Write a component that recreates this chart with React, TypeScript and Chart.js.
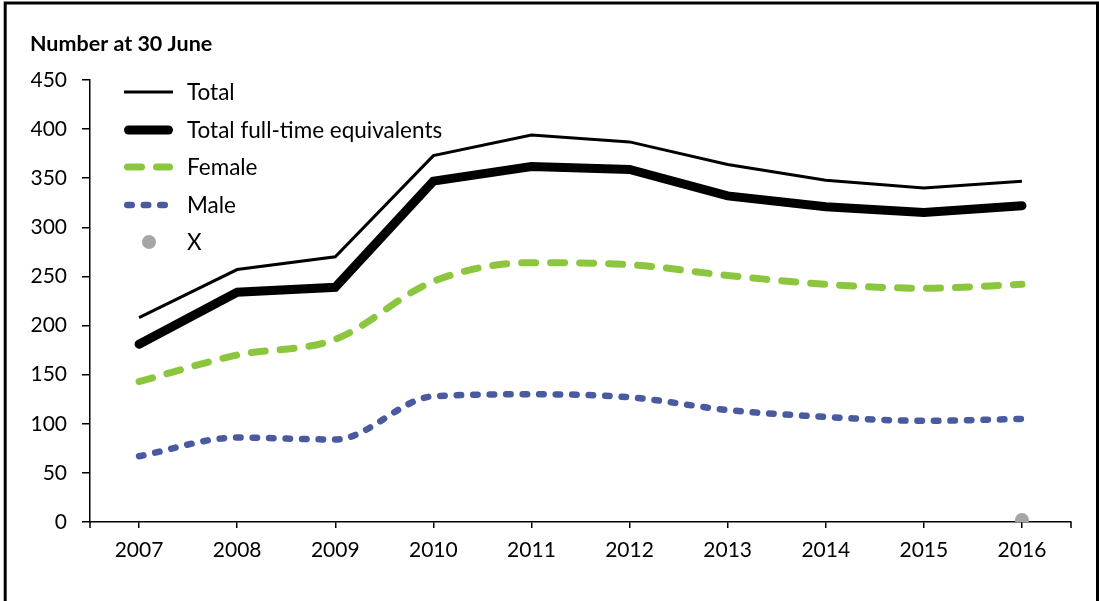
import React, { useEffect, useRef } from "react";
import { Chart, registerables } from "chart.js";

Chart.register(...registerables);

const years = ["2007", "2008", "2009", "2010", "2011", "2012", "2013", "2014", "2015", "2016"];
const totalValues = [208, 257, 270, 373, 394, 387, 364, 348, 340, 347];
const fteValues = [181, 234, 239, 347, 362, 359, 332, 321, 315, 322];
const femaleValues = [143, 170, 186, 245, 264, 262, 251, 242, 238, 242];
const maleValues = [67, 86, 84, 128, 130, 127, 114, 107, 103, 105];
const xValues = [null, null, null, null, null, null, null, null, null, 2];
const seriesLabels = ["Total", "Total full-time equivalents", "Female", "Male", "X"];
const titleText = "Number at 30 June";
const yMin = 0;
const yMax = 450;
const yStep = 50;

const FONT = "Lato, 'Open Sans', sans-serif";

const framePlugin = {
  id: "frame",
  afterDraw(chart: any) {
    const ctx = chart.ctx;
    const area = chart.chartArea;
    ctx.save();
    // outer frame
    ctx.strokeStyle = "#000";
    ctx.lineWidth = 3;
    ctx.strokeRect(5.2, 3, 1092.3, 800);
    // end ticks on x axis
    ctx.lineWidth = 1.5;
    ctx.beginPath();
    ctx.moveTo(area.left, area.bottom);
    ctx.lineTo(area.left, area.bottom + 6);
    ctx.moveTo(area.right, area.bottom);
    ctx.lineTo(area.right, area.bottom + 6);
    ctx.stroke();
    // title
    ctx.fillStyle = "#000";
    ctx.font = `bold 21.5px ${FONT}`;
    ctx.textBaseline = "alphabetic";
    ctx.textAlign = "left";
    ctx.fillText(titleText, 30, 51);
    // legend
    const rowYs = [92, 130, 167, 205, 242];
    chart.data.datasets.forEach((ds: any, i: number) => {
      const y = rowYs[i];
      ctx.save();
      if (ds.showLine === false) {
        ctx.fillStyle = ds.pointBackgroundColor;
        ctx.beginPath();
        ctx.arc(149, y, ds.pointRadius, 0, Math.PI * 2);
        ctx.fill();
      } else {
        ctx.strokeStyle = ds.borderColor;
        ctx.lineWidth = ds.borderWidth;
        ctx.lineCap = ds.borderCapStyle || "butt";
        ctx.setLineDash(ds.borderDash || []);
        ctx.beginPath();
        const x0 = ds.borderCapStyle === "round" ? 124 + ds.borderWidth / 2 : 124;
        const x1 = ds.borderCapStyle === "round" ? 173 - ds.borderWidth / 2 : 173;
        ctx.moveTo(x0, y);
        ctx.lineTo(x1, y);
        ctx.stroke();
      }
      ctx.restore();
      ctx.fillStyle = "#000";
      ctx.font = `22.5px ${FONT}`;
      ctx.textBaseline = "middle";
      ctx.textAlign = "left";
      ctx.fillText(ds.label, 187, y + 1);
    });
    ctx.restore();
  },
};

export default function App() {
  const canvasRef = useRef<HTMLCanvasElement | null>(null);

  useEffect(() => {
    const canvas = canvasRef.current;
    if (!canvas) return;
    const chart = new Chart(canvas, {
      type: "line",
      data: {
        labels: years,
        datasets: [
          {
            label: seriesLabels[0],
            data: totalValues,
            borderColor: "#000000",
            backgroundColor: "#000000",
            borderWidth: 3,
            borderCapStyle: "butt",
            pointRadius: 0,
            tension: 0,
          },
          {
            label: seriesLabels[1],
            data: fteValues,
            borderColor: "#000000",
            backgroundColor: "#000000",
            borderWidth: 9,
            borderCapStyle: "round",
            pointRadius: 0,
            tension: 0,
          },
          {
            label: seriesLabels[2],
            data: femaleValues,
            borderColor: "#8CC63F",
            backgroundColor: "#8CC63F",
            borderWidth: 7,
            borderCapStyle: "round",
            borderDash: [14, 15],
            pointRadius: 0,
            cubicInterpolationMode: "monotone",
          },
          {
            label: seriesLabels[3],
            data: maleValues,
            borderColor: "#4A5A9F",
            backgroundColor: "#4A5A9F",
            borderWidth: 6.5,
            borderCapStyle: "round",
            borderDash: [4.5, 12],
            pointRadius: 0,
            cubicInterpolationMode: "monotone",
          },
          {
            label: seriesLabels[4],
            data: xValues,
            showLine: false,
            borderColor: "#A6A6A9",
            backgroundColor: "#A6A6A9",
            pointBackgroundColor: "#A6A6A9",
            pointBorderWidth: 0,
            pointRadius: 7,
          } as any,
        ],
      },
      options: {
        responsive: false,
        animation: false,
        devicePixelRatio: 1,
        layout: { padding: { top: 80, right: 28, left: 0, bottom: 0 } },
        plugins: {
          legend: { display: false },
          title: { display: false },
          tooltip: { enabled: false },
        },
        scales: {
          x: {
            offset: true,
            border: { display: true, color: "#000", width: 1.5 },
            grid: {
              display: true,
              offset: false,
              drawOnChartArea: false,
              drawTicks: true,
              tickLength: 6,
              color: "#000",
              lineWidth: 1.5,
            },
            ticks: {
              color: "#000",
              font: { family: FONT, size: 21 },
              padding: 10,
              maxRotation: 0,
            },
            afterFit: (scale: any) => {
              scale.height = 601 - 522;
            },
          },
          y: {
            min: yMin,
            max: yMax,
            border: { display: true, color: "#000", width: 1.5 },
            grid: {
              display: true,
              drawOnChartArea: false,
              drawTicks: true,
              tickLength: 8,
              color: "#000",
              lineWidth: 1.5,
            },
            ticks: {
              stepSize: yStep,
              color: "#000",
              font: { family: FONT, size: 21 },
              padding: 15,
            },
            afterFit: (scale: any) => {
              scale.width = 90;
            },
          },
        },
      },
      plugins: [framePlugin],
    });
    return () => chart.destroy();
  }, []);

  return (
    <div style={{ position: "absolute", left: 0, top: 0, width: 1099, height: 601, background: "#fff" }}>
      <canvas ref={canvasRef} width={1099} height={601} style={{ display: "block" }} />
    </div>
  );
}
